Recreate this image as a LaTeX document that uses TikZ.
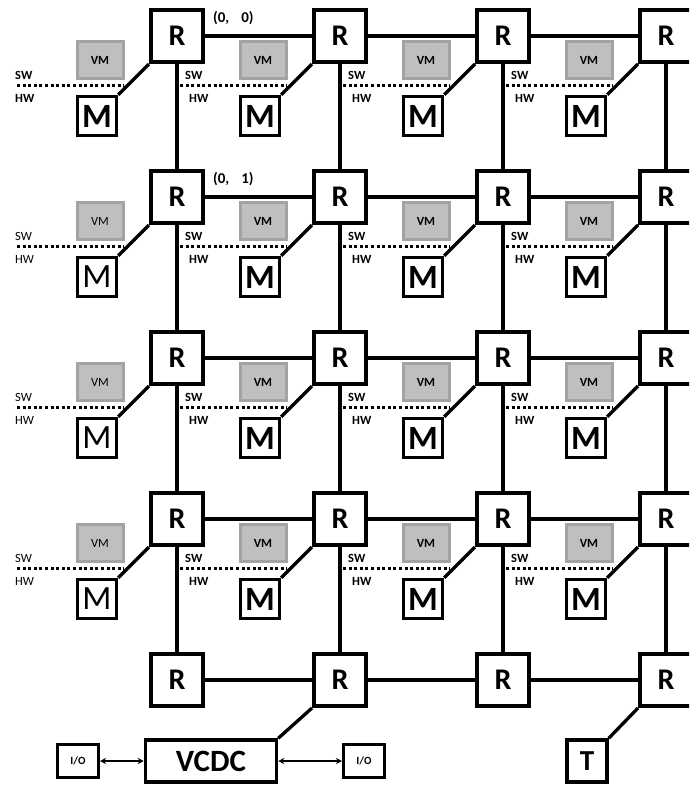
\documentclass[tikz,border=0pt]{standalone}
\usepackage{fontspec}
\setmainfont{Carlito}
\usetikzlibrary{calc, arrows.meta}

\definecolor{vmfill}{HTML}{BFBFBF}
\definecolor{vmedge}{HTML}{A3A3A3}

\tikzset{
    router/.style={draw, line width=4pt, fill=white, minimum width=52pt, minimum height=52pt, inner sep=0pt, font=\bfseries\fontsize{30}{30}\selectfont},
    memory/.style={draw, line width=3.5pt, fill=white, minimum size=39pt, inner sep=0pt},
    vmbox/.style={draw=vmedge, fill=vmfill, line width=3pt, minimum width=46pt, minimum height=37pt, inner sep=0pt},
    link/.style={line width=3.3pt},
    divider/.style={line width=3pt, dash pattern=on 3pt off 2.6pt},
    layer/.style={anchor=west, inner sep=0pt},
    coordlabel/.style={anchor=west, inner sep=0pt, font=\bfseries\fontsize{15}{15}\selectfont},
    iobox/.style={draw, line width=3pt, fill=white, minimum width=41pt, minimum height=33pt, inner sep=0pt, font=\bfseries\fontsize{11}{11}\selectfont},
}

\begin{document}
\begin{tikzpicture}[x=1pt, y=-1pt]
    \useasboundingbox (0,0) rectangle (689,785);
    \clip (0,0) rectangle (689,785);
    \def\dx{163}  % column pitch
    \def\dy{161}  % row pitch
    % routers
    \foreach \i in {0, ..., 3} {
        \foreach \j in {0, ..., 4} {
            \node[router] (r-\i-\j) at (177+\i*\dx, 36+\j*\dy) {R};
        };
    };
    % mesh links
    \foreach \j in {0, ..., 4} {
        \foreach \i/\k in {0/1, 1/2, 2/3} {
            \draw[link] (r-\i-\j) -- (r-\k-\j);
        };
    };
    \foreach \i in {0, ..., 3} {
        \foreach \j/\k in {0/1, 1/2, 2/3, 3/4} {
            \draw[link] (r-\i-\j) -- (r-\i-\k);
        };
    };
    % memory, virtual machine and sw/hw divider per tile
    \foreach \i in {0, ..., 3} {
        \foreach \j in {0, ..., 3} {
            \ifnum\i=0 \ifnum\j>0 \def\wt{\mdseries}\else\def\wt{\bfseries}\fi \else\def\wt{\bfseries}\fi
            \node[memory, font=\wt\fontsize{34}{34}\selectfont] (m-\i-\j) at ($(r-\i-\j)+(-80,80)$) {M};
            \draw[link] (m-\i-\j.north east) -- (r-\i-\j.south west);
            \node[vmbox, font=\wt\fontsize{12.5}{12.5}\selectfont] (vm-\i-\j) at ($(r-\i-\j)+(-77,24)$) {VM};
            \draw[divider] ($(r-\i-\j)+(-160,49)$) -- ($(r-\i-\j)+(-53,49)$);
            \ifnum\i=0
                \node[layer, font=\wt\fontsize{12.5}{12.5}\selectfont] at ($(r-\i-\j)+(-162,39)$) {SW};
                \node[layer, font=\wt\fontsize{12.5}{12.5}\selectfont] at ($(r-\i-\j)+(-162,62)$) {HW};
            \else
                \node[layer, font=\bfseries\fontsize{12.5}{12.5}\selectfont] at ($(r-\i-\j)+(-155,39)$) {SW};
                \node[layer, font=\bfseries\fontsize{12.5}{12.5}\selectfont] at ($(r-\i-\j)+(-151,62)$) {HW};
            \fi
        };
    };
    % coordinates
    \node[coordlabel] at ($(r-0-0.north east)+(8,10)$) {(0,\hspace{12pt}0)};
    \node[coordlabel] at ($(r-0-1.north east)+(8,10)$) {(0,\hspace{12pt}1)};
    % i/o and controller
    \node[draw, line width=3.5pt, fill=white, minimum width=131pt, minimum height=42pt, inner sep=0pt, font=\bfseries\fontsize{31}{31}\selectfont] (vcdc) at (211,761) {VCDC};
    \node[iobox] (io-l) at (78,761) {I/O};
    \node[iobox] (io-r) at (364,761) {I/O};
    \node[draw, line width=3.5pt, fill=white, minimum width=40pt, minimum height=42pt, inner sep=0pt, font=\bfseries\fontsize{29}{29}\selectfont] (t) at (587,761) {T};
    \draw[line width=2.2pt, {Stealth[length=6pt, width=6pt]}-{Stealth[length=6pt, width=6pt]}] (io-l) -- (vcdc);
    \draw[line width=2.2pt, {Stealth[length=6pt, width=6pt]}-{Stealth[length=6pt, width=6pt]}] (vcdc) -- (io-r);
    \draw[link] (vcdc.north east) -- (r-1-4.south west);
    \draw[link] (t.north east) -- (r-3-4.south west);
\end{tikzpicture}
\end{document}
